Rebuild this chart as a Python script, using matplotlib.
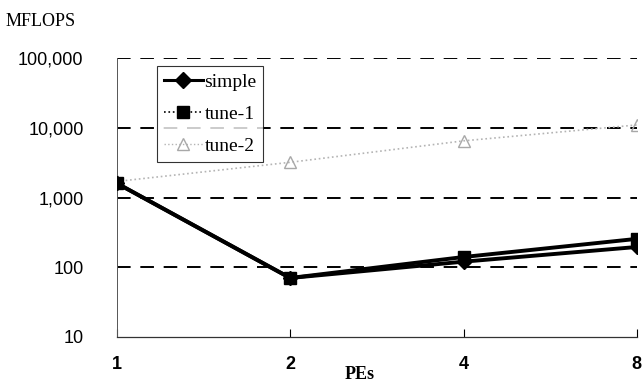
import matplotlib.pyplot as plt
import matplotlib.ticker as mticker
from matplotlib.lines import Line2D
import numpy as np

pes = ["1", "2", "4", "8"]
simple = [1600, 70, 120, 195]
tune1 = [1600, 70, 140, 255]
tune2 = [1700, 3200, 6500, 11000]

plt.rcParams['font.family'] = ['Liberation Sans', 'DejaVu Sans']
fig = plt.figure(figsize=(6.42, 3.85), dpi=100)
ax = fig.add_axes([0.182, 0.125, 0.810, 0.724])

x = np.arange(len(pes))
ax.plot(x, tune2, color='#b4b4b4', linestyle=':', linewidth=1.2, marker='^',
        markersize=8, markerfacecolor='none', markeredgecolor='#a8a8a8', zorder=2)
ax.plot(x, tune1, color='black', linewidth=2.8, marker='s', markersize=8, zorder=3)
ax.plot(x, simple, color='black', linewidth=2.8, marker='D', markersize=7, zorder=4)

ax.set_yscale('log')
ax.set_ylim(10, 100000)
ax.set_xlim(0, 3)
ax.set_yticks([10, 100, 1000, 10000, 100000])
ax.yaxis.set_major_formatter(mticker.FuncFormatter(lambda v, p: f"{int(v):,}"))
ax.yaxis.set_minor_locator(mticker.NullLocator())
ax.tick_params(axis='y', length=0, pad=24, labelsize=13)
ax.set_xticks(x)
ax.set_xticklabels(pes, fontweight='bold', fontsize=13)
ax.tick_params(axis='x', direction='in', length=6, width=0.8, pad=14)

for v in [100, 1000, 10000, 100000]:
    ax.axhline(v, color='black', linestyle=(0, (7, 5)), linewidth=1.4, zorder=1)

for s in ['top', 'right']:
    ax.spines[s].set_visible(False)
ax.spines['left'].set_linestyle((0, (3, 1, 1, 1)))
ax.spines['left'].set_linewidth(0.7)
ax.spines['left'].set_color('#555555')
ax.spines['bottom'].set_linewidth(0.9)
ax.spines['bottom'].set_color('#333333')

handles = [
    Line2D([], [], color='black', linewidth=2.2, marker='D', markersize=8),
    Line2D([], [], color='black', linewidth=1.2, linestyle=':', marker='s', markersize=8),
    Line2D([], [], color='#b4b4b4', linewidth=1.0, linestyle=':', marker='^',
           markersize=8, markerfacecolor='none', markeredgecolor='#a8a8a8'),
]
leg = ax.legend(handles, ["simple", "tune-1", "tune-2"],
                loc='upper left', bbox_to_anchor=(0.077, 0.97),
                prop={'family': 'Liberation Serif', 'size': 14},
                frameon=True, fancybox=False, edgecolor='black',
                handlelength=2.0, handletextpad=0.1, borderpad=0.35,
                labelspacing=0.75, borderaxespad=0)
leg.get_frame().set_linewidth(0.8)

fig.text(0.008, 0.932, "MFLOPS", fontsize=13, family='Liberation Serif')
fig.text(0.56, 0.016, "PEs", fontsize=13, family='Liberation Serif',
         fontweight='bold', ha='center')

plt.savefig("out.png", dpi=100)
